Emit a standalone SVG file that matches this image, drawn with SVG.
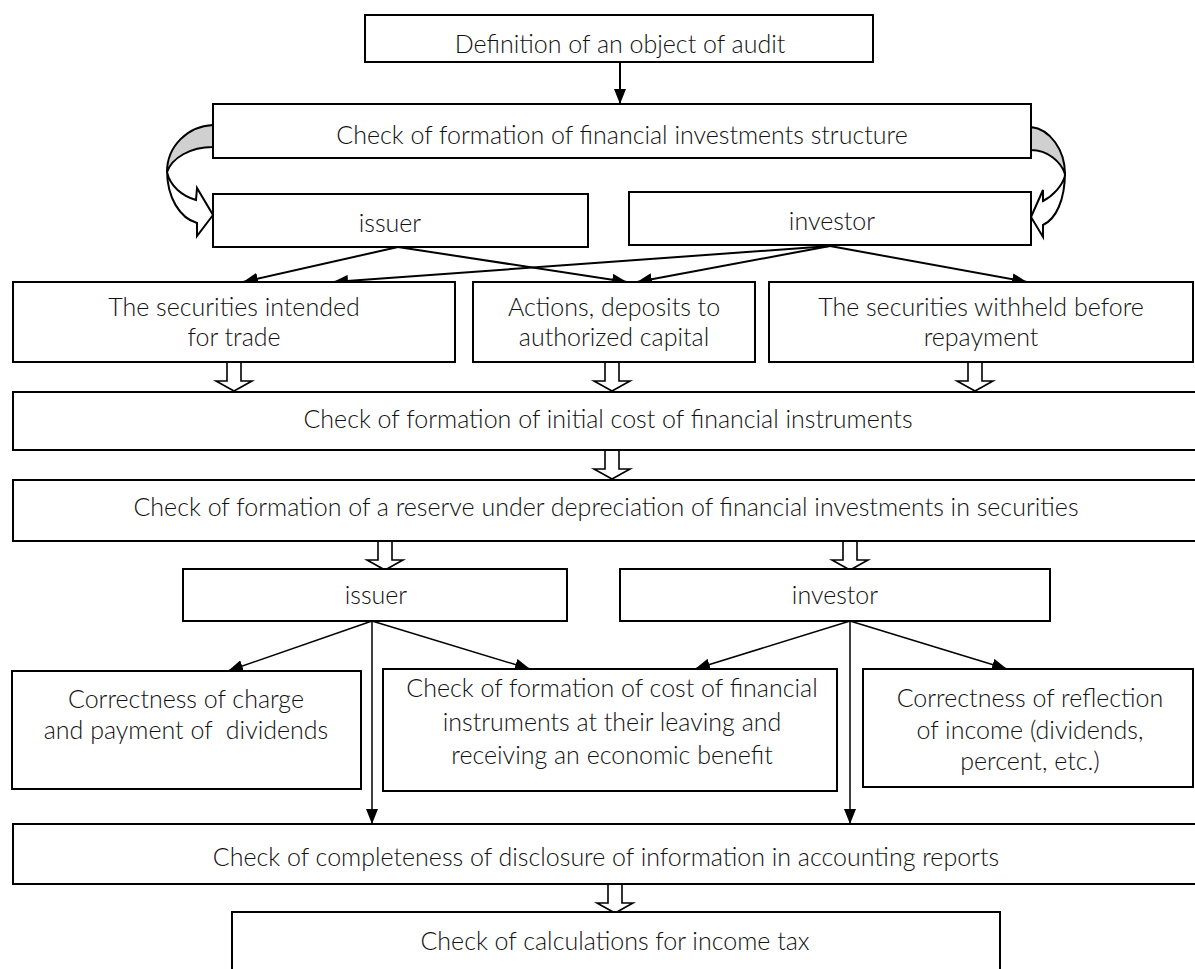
<svg xmlns="http://www.w3.org/2000/svg" xmlns:xlink="http://www.w3.org/1999/xlink" width="1195" height="969" viewBox="0 0 1195 969">
<style>
.box{fill:#fff;stroke:#000;stroke-width:2}
.t{font-family:Lato,"Open Sans","Liberation Sans",sans-serif;font-size:25px;font-weight:300;fill:#111;text-anchor:middle;white-space:pre}
.ln{stroke:#000;stroke-width:2;fill:none}
.ln2{stroke:#000;stroke-width:1.5;fill:none}
.blk{fill:#fff;stroke:#000;stroke-width:1.6}
.cv{stroke:#000;stroke-width:2;stroke-linejoin:miter}
</style>
<defs>
<marker id="ah" markerUnits="userSpaceOnUse" markerWidth="16" markerHeight="12" refX="15" refY="6" orient="auto">
<path d="M0,0 L15,6 L0,12 Z" fill="#000"/>
</marker>
<path id="ba" d="M-7,0 L7,0 L7,19 L18,19 L0,29 L-18,19 L-7,19 Z"/>
</defs>
<rect width="1195" height="969" fill="#fff"/>

<g id="connectors">
<line class="ln" x1="620" y1="62" x2="620" y2="104" marker-end="url(#ah)"/>
<line class="ln" x1="398" y1="247" x2="243" y2="282" marker-end="url(#ah)"/>
<line class="ln" x1="398" y1="247" x2="627" y2="282" marker-end="url(#ah)"/>
<line class="ln" x1="830" y1="246" x2="333" y2="282" marker-end="url(#ah)"/>
<line class="ln" x1="830" y1="246" x2="637" y2="282" marker-end="url(#ah)"/>
<line class="ln" x1="830" y1="246" x2="1027" y2="282" marker-end="url(#ah)"/>
<line class="ln2" x1="372" y1="621" x2="228" y2="671" marker-end="url(#ah)"/>
<line class="ln2" x1="372" y1="621" x2="372" y2="824" marker-end="url(#ah)"/>
<line class="ln2" x1="372" y1="621" x2="530" y2="669" marker-end="url(#ah)"/>
<line class="ln2" x1="850" y1="621" x2="695" y2="669" marker-end="url(#ah)"/>
<line class="ln2" x1="850" y1="621" x2="850" y2="824" marker-end="url(#ah)"/>
<line class="ln2" x1="850" y1="621" x2="1007" y2="669" marker-end="url(#ah)"/>
<use xlink:href="#ba" class="blk" x="234" y="362"/>
<use xlink:href="#ba" class="blk" x="612" y="362"/>
<use xlink:href="#ba" class="blk" x="975" y="362"/>
<use xlink:href="#ba" class="blk" x="612" y="450"/>
<use xlink:href="#ba" class="blk" x="385" y="541"/>
<use xlink:href="#ba" class="blk" x="850" y="541"/>
<use xlink:href="#ba" class="blk" x="615" y="884"/>
<path class="cv" fill="#d0d0d0" d="M213,125 C188,126 167,146 167,172 C172,158 190,147 213,147 Z"/>
<path class="cv" fill="#fff" d="M167,170 C167,198 180,218 197,223 L197,236 L213,215 L197,188 L196,200 C182,196 170,186 167,172 Z"/>
<path class="cv" fill="#d0d0d0" d="M1031,127 C1050,129 1065,150 1065,174 C1061,162 1048,150 1031,150 Z"/>
<path class="cv" fill="#fff" d="M1065,172 C1065,200 1056,219 1043,225 L1043,237 L1031,217 L1043,190 L1043,201 C1053,196 1062,186 1065,176 Z"/>
</g>

<g id="n1"><rect class="box" x="365" y="15" width="508" height="47"/><text class="t" x="620" y="53">Definition of an object of audit</text></g>
<g id="n2"><rect class="box" x="213" y="104" width="818" height="54"/><text class="t" x="622" y="144">Check of formation of financial investments structure</text></g>
<g id="n3"><rect class="box" x="213" y="194" width="375" height="53"/><text class="t" x="390" y="232">issuer</text></g>
<g id="n4"><rect class="box" x="629" y="192" width="402" height="53"/><text class="t" x="832" y="230">investor</text></g>
<g id="n5"><rect class="box" x="13" y="282" width="442" height="80"/><text class="t" x="234" y="316">The securities intended</text><text class="t" x="234" y="346">for trade</text></g>
<g id="n6"><rect class="box" x="473" y="282" width="282" height="80"/><text class="t" x="614" y="316">Actions, deposits to</text><text class="t" x="614" y="346">authorized capital</text></g>
<g id="n7"><rect class="box" x="769" y="282" width="424" height="80"/><text class="t" x="981" y="316">The securities withheld before</text><text class="t" x="981" y="346">repayment</text></g>
<g id="n8"><rect class="box" x="13" y="392" width="1190" height="58"/><text class="t" x="608" y="428">Check of formation of initial cost of financial instruments</text></g>
<g id="n9"><rect class="box" x="13" y="480" width="1190" height="61"/><text class="t" x="606" y="516">Check of formation of a reserve under depreciation of financial investments in securities</text></g>
<g id="n10"><rect class="box" x="183" y="569" width="384" height="52"/><text class="t" x="376" y="604">issuer</text></g>
<g id="n11"><rect class="box" x="620" y="569" width="430" height="52"/><text class="t" x="835" y="604">investor</text></g>
<g id="n12"><rect class="box" x="12" y="671" width="349" height="118"/><text class="t" x="186" y="708">Correctness of charge</text><text class="t" x="186" y="739">and payment of  dividends</text></g>
<g id="n13"><rect class="box" x="383" y="669" width="454" height="122"/><text class="t" x="612" y="697">Check of formation of cost of financial</text><text class="t" x="612" y="731">instruments at their leaving and</text><text class="t" x="612" y="764">receiving an economic benefit</text></g>
<g id="n14"><rect class="box" x="863" y="669" width="330" height="118"/><text class="t" x="1030" y="707">Correctness of reflection</text><text class="t" x="1030" y="739">of income (dividends,</text><text class="t" x="1030" y="770">percent, etc.)</text></g>
<g id="n15"><rect class="box" x="13" y="824" width="1190" height="60"/><text class="t" x="606" y="866">Check of completeness of disclosure of information in accounting reports</text></g>
<g id="n16"><rect class="box" x="232" y="912" width="768" height="70"/><text class="t" x="615" y="950">Check of calculations for income tax</text></g>
</svg>
